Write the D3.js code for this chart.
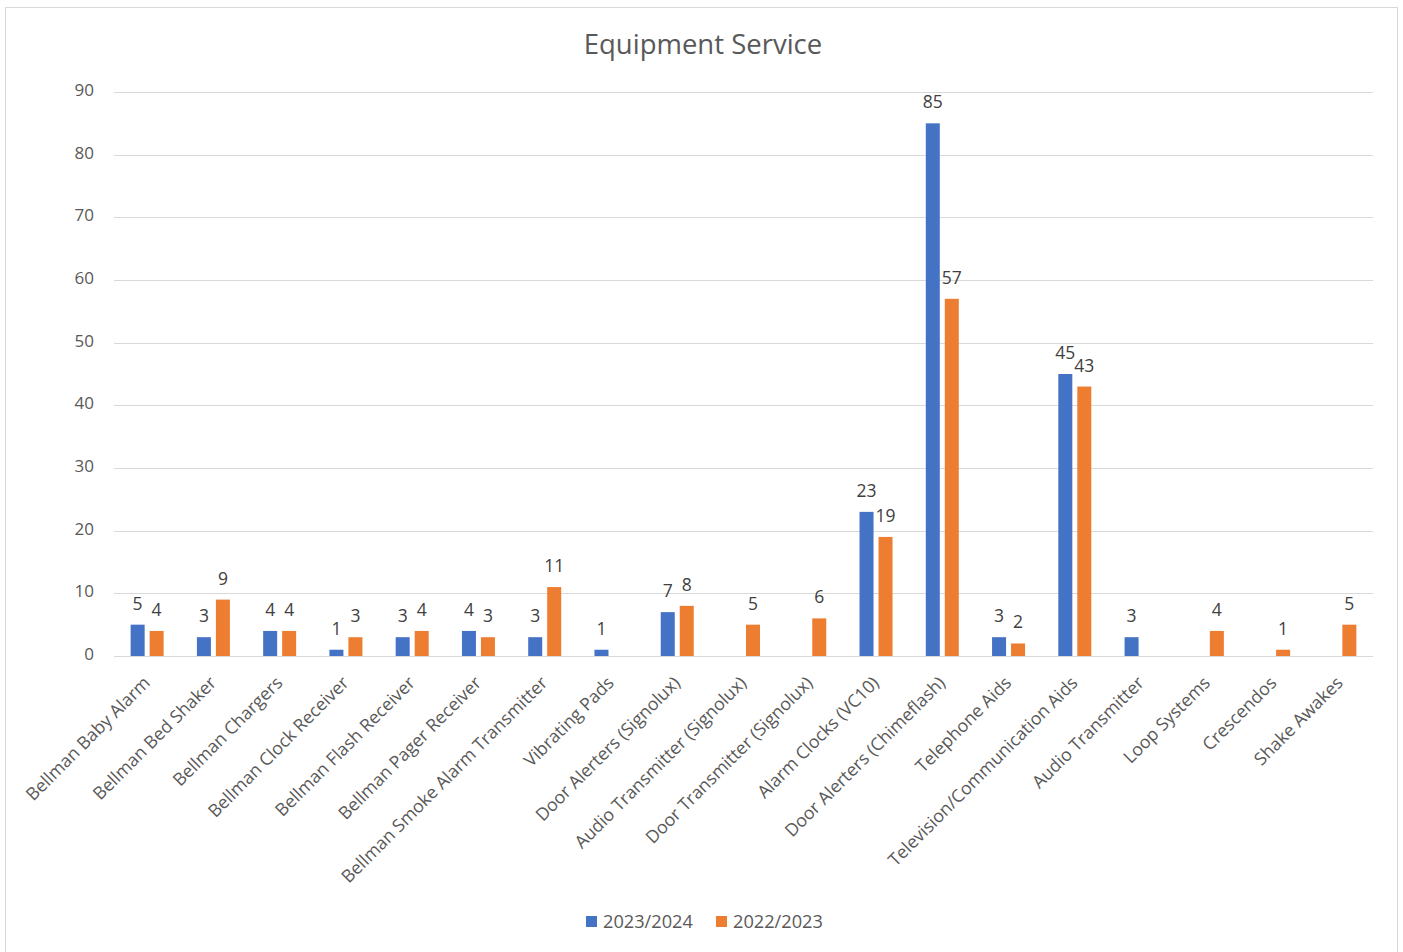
<!DOCTYPE html>
<html>
<head>
<meta charset="utf-8">
<script src="https://cdn.jsdelivr.net/npm/d3@7"></script>
<style>
  body { margin: 0; background: #fff; }
  svg { font-family: "Segoe UI", "Open Sans", sans-serif; }
  .grid line { stroke: #d9d9d9; }
  .tick text { fill: #595959; }
</style>
</head>
<body>
<svg id="chart" width="1403" height="952"></svg>
<script>
const categories = [
  "Bellman Baby Alarm", "Bellman Bed Shaker", "Bellman Chargers", "Bellman Clock Receiver",
  "Bellman Flash Receiver", "Bellman Pager Receiver", "Bellman Smoke Alarm Transmitter",
  "Vibrating Pads", "Door Alerters (Signolux)", "Audio Transmitter (Signolux)",
  "Door Transmitter (Signolux)", "Alarm Clocks (VC10)", "Door Alerters (Chimeflash)",
  "Telephone Aids", "Television/Communication Aids", "Audio Transmitter", "Loop Systems",
  "Crescendos", "Shake Awakes"
];
const seriesNames = ["2023/2024", "2022/2023"];
const values2324 = [5, 3, 4, 1, 3, 4, 3, 1, 7, null, null, 23, 85, 3, 45, 3, null, null, null];
const values2223 = [4, 9, 4, 3, 4, 3, 11, null, 8, 5, 6, 19, 57, 2, 43, null, 4, 1, 5];
const yTicks = [0, 10, 20, 30, 40, 50, 60, 70, 80, 90];
const colors = ["#4472C4", "#ED7D31"];

const svg = d3.select("#chart");

// chart frame
svg.append("rect").attr("x", 5.5).attr("y", 7.5).attr("width", 1392).attr("height", 960)
  .attr("fill", "#fff").attr("stroke", "#d9d9d9");

const margin = {left: 114, right: 30, top: 92, bottom: 296};
const width = 1403, height = 952;

const x = d3.scaleBand().domain(categories).range([margin.left, width - margin.right]);
const y = d3.scaleLinear().domain([0, 90]).range([height - margin.bottom, margin.top]);

const barW = 14, gap = 5;
const xs = d3.scaleOrdinal().domain([0, 1]).range([-(gap / 2) - barW, gap / 2]);

// title
svg.append("text").attr("x", 703).attr("y", 54).attr("text-anchor", "middle")
  .attr("font-size", 27.5).attr("fill", "#595959").text("Equipment Service");

// gridlines
const grid = svg.append("g").attr("class", "grid");
grid.selectAll("line").data(yTicks).enter().append("line")
  .attr("x1", margin.left).attr("x2", width - margin.right)
  .attr("y1", d => Math.round(y(d)) + 0.5).attr("y2", d => Math.round(y(d)) + 0.5);

// y axis labels
const yAxis = d3.axisLeft(y).tickValues(yTicks).tickSize(0).tickPadding(20);
svg.append("g").attr("transform", translate(margin.left, -2)).call(yAxis)
  .call(g => g.select(".domain").remove())
  .selectAll("text").attr("font-size", 17).attr("font-family", "Segoe UI, Open Sans, sans-serif");

// bars
const series = [values2324, values2223];
series.forEach(function(vals, si) {
  const data = categories.map((c, i) => ({c: c, v: vals[i]})).filter(d => d.v !== null);
  svg.append("g").selectAll("rect").data(data).enter().append("rect")
    .attr("x", d => x(d.c) + x.bandwidth() / 2 + xs(si))
    .attr("y", d => y(d.v))
    .attr("width", barW)
    .attr("height", d => y(0) - y(d.v))
    .attr("fill", colors[si]);
  svg.append("g").selectAll("text").data(data).enter().append("text")
    .attr("x", d => x(d.c) + x.bandwidth() / 2 + xs(si) + barW / 2)
    .attr("y", d => y(d.v) - 15)
    .attr("text-anchor", "middle")
    .attr("font-size", 17.5).attr("fill", "#404040")
    .text(d => d.v);
});

// x axis line
svg.append("line").attr("x1", margin.left).attr("x2", width - margin.right)
  .attr("y1", Math.round(y(0)) + 0.5).attr("y2", Math.round(y(0)) + 0.5).attr("stroke", "#d9d9d9");

// category labels
svg.append("g").selectAll("text").data(categories).enter().append("text")
  .attr("transform", d => translate(x(d) + x.bandwidth() / 2 + 4, y(0) + 28) + " rotate(-45)")
  .attr("text-anchor", "end")
  .attr("font-size", 17.7).attr("fill", "#595959")
  .text(d => d);

// legend
const legend = svg.append("g").attr("transform", translate(586, 921));
const legendX = [0, 130];
seriesNames.forEach(function(name, i) {
  const lg = legend.append("g").attr("transform", translate(legendX[i], 0));
  lg.append("rect").attr("x", 0).attr("y", -5).attr("width", 11).attr("height", 11).attr("fill", colors[i]);
  lg.append("text").attr("x", 17).attr("y", 6.5).attr("font-size", 18.2).attr("fill", "#595959").text(name);
});

function translate(x, y) {
  return "translate(" + String(x) + "," + String(y) + ")";
}
</script>
</body>
</html>
